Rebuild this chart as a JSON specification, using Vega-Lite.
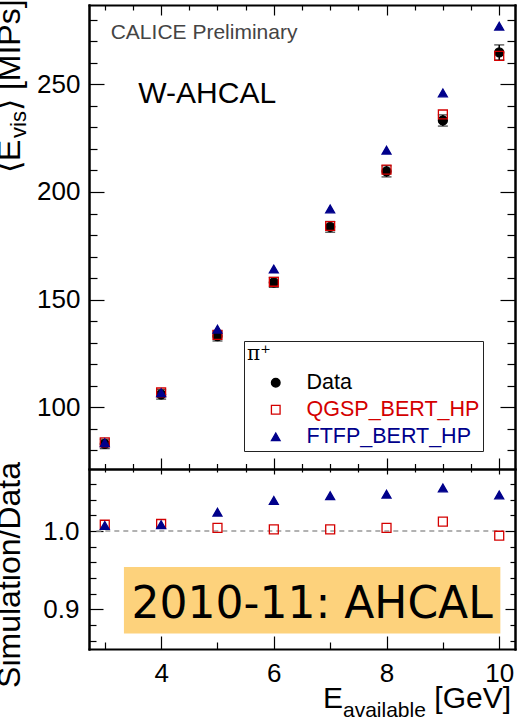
{
  "$schema": "https://vega.github.io/schema/vega-lite/v6.json",
  "width": 426,
  "height": 644,
  "autosize": {"type": "none"},
  "padding": {"left": 89, "top": 5, "right": 13, "bottom": 72},
  "background": "white",
  "config": {
    "font": "Liberation Sans",
    "view": {"stroke": null},
    "axis": {
      "grid": false,
      "domainColor": "black",
      "domainWidth": 2,
      "domainCap": "square",
      "tickColor": "black",
      "tickWidth": 1.2,
      "labelFont": "Liberation Sans",
      "labelFontSize": 26,
      "labelColor": "black",
      "labelFlush": false,
      "labelOverlap": false,
      "labelBound": false
    }
  },
  "datasets": {
    "main": [
      {"E": 3, "series": "Data", "v": 83.0, "err": 2.2},
      {"E": 4, "series": "Data", "v": 106.0, "err": 2.2},
      {"E": 5, "series": "Data", "v": 133.1, "err": 2.3},
      {"E": 6, "series": "Data", "v": 158.0, "err": 2.3},
      {"E": 7, "series": "Data", "v": 183.8, "err": 2.5},
      {"E": 8, "series": "Data", "v": 209.6, "err": 2.6},
      {"E": 9, "series": "Data", "v": 233.2, "err": 2.6},
      {"E": 10, "series": "Data", "v": 264.8, "err": 3.5},
      {"E": 3, "series": "QGSP_BERT_HP", "v": 83.7},
      {"E": 4, "series": "QGSP_BERT_HP", "v": 106.9},
      {"E": 5, "series": "QGSP_BERT_HP", "v": 133.6},
      {"E": 6, "series": "QGSP_BERT_HP", "v": 158.3},
      {"E": 7, "series": "QGSP_BERT_HP", "v": 184.2},
      {"E": 8, "series": "QGSP_BERT_HP", "v": 210.4},
      {"E": 9, "series": "QGSP_BERT_HP", "v": 236.0},
      {"E": 10, "series": "QGSP_BERT_HP", "v": 263.2},
      {"E": 3, "series": "FTFP_BERT_HP", "v": 83.6},
      {"E": 4, "series": "FTFP_BERT_HP", "v": 106.8},
      {"E": 5, "series": "FTFP_BERT_HP", "v": 136.3},
      {"E": 6, "series": "FTFP_BERT_HP", "v": 164.2},
      {"E": 7, "series": "FTFP_BERT_HP", "v": 192.1},
      {"E": 8, "series": "FTFP_BERT_HP", "v": 219.4},
      {"E": 9, "series": "FTFP_BERT_HP", "v": 246.0},
      {"E": 10, "series": "FTFP_BERT_HP", "v": 277.0}
    ],
    "ratio": [
      {"E": 3, "series": "QGSP_BERT_HP", "r": 1.008},
      {"E": 4, "series": "QGSP_BERT_HP", "r": 1.009},
      {"E": 5, "series": "QGSP_BERT_HP", "r": 1.004},
      {"E": 6, "series": "QGSP_BERT_HP", "r": 1.002},
      {"E": 7, "series": "QGSP_BERT_HP", "r": 1.002},
      {"E": 8, "series": "QGSP_BERT_HP", "r": 1.004},
      {"E": 9, "series": "QGSP_BERT_HP", "r": 1.012},
      {"E": 10, "series": "QGSP_BERT_HP", "r": 0.994},
      {"E": 3, "series": "FTFP_BERT_HP", "r": 1.007},
      {"E": 4, "series": "FTFP_BERT_HP", "r": 1.008},
      {"E": 5, "series": "FTFP_BERT_HP", "r": 1.024},
      {"E": 6, "series": "FTFP_BERT_HP", "r": 1.039},
      {"E": 7, "series": "FTFP_BERT_HP", "r": 1.045},
      {"E": 8, "series": "FTFP_BERT_HP", "r": 1.047},
      {"E": 9, "series": "FTFP_BERT_HP", "r": 1.055},
      {"E": 10, "series": "FTFP_BERT_HP", "r": 1.046}
    ]
  },
  "resolve": {"scale": {"y": "independent"}, "axis": {"x": "independent", "y": "independent"}},
  "layer": [
    {
      "resolve": {"axis": {"x": "independent", "y": "independent"}},
      "layer": [
        {
          "data": {"name": "main"},
          "mark": {"type": "point", "opacity": 0},
          "encoding": {
            "x": {"field": "E", "type": "quantitative", "scale": {"domain": [2.72, 10.28], "nice": false, "zero": false},
              "axis": {"orient": "top", "title": null, "labels": false, "values": [3,3.5,4,4.5,5,5.5,6,6.5,7,7.5,8,8.5,9,9.5,10],
                "tickSize": {"condition": {"test": "datum.value % 2 === 0", "value": -10}, "value": -5}}},
            "y": {"field": "v", "type": "quantitative", "scale": {"domain": [-12.24, 286.83], "nice": false, "zero": false},
              "axis": {"orient": "left", "title": null, "values": [80,90,100,110,120,130,140,150,160,170,180,190,200,210,220,230,240,250,260,270,280],
                "labelExpr": "datum.value % 50 === 0 ? datum.label : ''", "labelPadding": 24,
                "tickSize": {"condition": {"test": "datum.value % 50 === 0", "value": -15}, "value": -8}}}
          }
        },
        {
          "data": {"name": "main"},
          "mark": {"type": "point", "opacity": 0},
          "encoding": {
            "x": {"field": "E", "type": "quantitative", "scale": {"domain": [2.72, 10.28], "nice": false, "zero": false},
              "axis": {"orient": "top", "offset": -464, "title": null, "labels": false, "values": [3,3.5,4,4.5,5,5.5,6,6.5,7,7.5,8,8.5,9,9.5,10],
                "tickSize": {"condition": {"test": "datum.value % 2 === 0", "value": 11}, "value": 5.5}}},
            "y": {"field": "v", "type": "quantitative", "scale": {"domain": [-12.24, 286.83], "nice": false, "zero": false},
              "axis": {"orient": "right", "title": null, "labels": false, "values": [80,90,100,110,120,130,140,150,160,170,180,190,200,210,220,230,240,250,260,270,280],
                "tickSize": {"condition": {"test": "datum.value % 50 === 0", "value": -15}, "value": -8}}}
          }
        },
        {
          "data": {"name": "main"},
          "transform": [{"filter": "datum.series === 'Data'"}],
          "mark": {"type": "errorbar", "ticks": {"size": 10, "thickness": 1.3, "color": "black"}, "rule": {"strokeWidth": 1.5, "color": "black"}},
          "encoding": {
            "x": {"field": "E", "type": "quantitative", "scale": {"domain": [2.72, 10.28], "nice": false, "zero": false}, "axis": null},
            "y": {"field": "v", "type": "quantitative", "scale": {"domain": [-12.24, 286.83], "nice": false, "zero": false}, "axis": null},
            "yError": {"field": "err"}
          }
        },
        {
          "data": {"name": "main"},
          "mark": {"type": "point", "size": 80, "strokeWidth": 1.3, "opacity": 1, "fillOpacity": 1},
          "encoding": {
            "x": {"field": "E", "type": "quantitative", "scale": {"domain": [2.72, 10.28], "nice": false, "zero": false}, "axis": null},
            "y": {"field": "v", "type": "quantitative", "scale": {"domain": [-12.24, 286.83], "nice": false, "zero": false}, "axis": null},
            "shape": {"field": "series", "type": "nominal",
              "scale": {"domain": ["Data", "QGSP_BERT_HP", "FTFP_BERT_HP"], "range": ["circle", "square", "triangle-up"]},
              "legend": {"orient": "none", "legendX": 155, "legendY": 336, "title": "π⁺", "titleFont": "DejaVu Serif", "titleFontSize": 20,
                "titleFontWeight": "normal", "titleColor": "black", "titlePadding": 8,
                "labelFont": "Liberation Sans", "labelFontSize": 21.5, "labelLimit": 400,
                "labelColor": {"expr": "datum.label === 'Data' ? 'black' : datum.label === 'QGSP_BERT_HP' ? '#d40000' : '#00008b'"},
                "symbolSize": 75, "symbolStrokeWidth": 1.3, "symbolOffset": 18, "labelOffset": 20, "rowPadding": 4, "padding": 3,
                "fillColor": "white", "strokeColor": "#222"}},
            "fill": {"field": "series", "type": "nominal",
              "scale": {"domain": ["Data", "QGSP_BERT_HP", "FTFP_BERT_HP"], "range": ["black", "transparent", "#00008b"]}},
            "stroke": {"field": "series", "type": "nominal",
              "scale": {"domain": ["Data", "QGSP_BERT_HP", "FTFP_BERT_HP"], "range": ["black", "#d40000", "#00008b"]}}
          }
        },
        {
          "data": {"values": [{}]},
          "mark": {"type": "text", "text": "CALICE Preliminary", "align": "left", "baseline": "alphabetic", "fontSize": 21, "color": "#444"},
          "encoding": {
            "x": {"datum": 3.105, "type": "quantitative", "scale": {"domain": [2.72, 10.28], "nice": false, "zero": false}, "axis": null},
            "y": {"datum": 270.9, "type": "quantitative", "scale": {"domain": [-12.24, 286.83], "nice": false, "zero": false}, "axis": null}
          }
        },
        {
          "data": {"values": [{}]},
          "mark": {"type": "text", "text": "W-AHCAL", "align": "left", "baseline": "alphabetic", "fontSize": 30, "color": "black"},
          "encoding": {
            "x": {"datum": 3.595, "type": "quantitative", "scale": {"domain": [2.72, 10.28], "nice": false, "zero": false}, "axis": null},
            "y": {"datum": 241.45, "type": "quantitative", "scale": {"domain": [-12.24, 286.83], "nice": false, "zero": false}, "axis": null}
          }
        },
        {
          "data": {"values": [{}]},
          "mark": {"type": "text", "text": "⟨E", "align": "left", "baseline": "alphabetic", "angle": 270, "fontSize": 32, "color": "black"},
          "encoding": {
            "x": {"datum": 1.49, "type": "quantitative", "scale": {"domain": [2.72, 10.28], "nice": false, "zero": false}, "axis": null},
            "y": {"datum": 208.8, "type": "quantitative", "scale": {"domain": [-12.24, 286.83], "nice": false, "zero": false}, "axis": null}
          }
        },
        {
          "data": {"values": [{}]},
          "mark": {"type": "text", "text": "vis", "align": "left", "baseline": "alphabetic", "angle": 270, "fontSize": 22, "color": "black"},
          "encoding": {
            "x": {"datum": 1.605, "type": "quantitative", "scale": {"domain": [2.72, 10.28], "nice": false, "zero": false}, "axis": null},
            "y": {"datum": 225.1, "type": "quantitative", "scale": {"domain": [-12.24, 286.83], "nice": false, "zero": false}, "axis": null}
          }
        },
        {
          "data": {"values": [{}]},
          "mark": {"type": "text", "text": "⟩ [MIPs]", "align": "left", "baseline": "alphabetic", "angle": 270, "fontSize": 32, "color": "black"},
          "encoding": {
            "x": {"datum": 1.49, "type": "quantitative", "scale": {"domain": [2.72, 10.28], "nice": false, "zero": false}, "axis": null},
            "y": {"datum": 237.6, "type": "quantitative", "scale": {"domain": [-12.24, 286.83], "nice": false, "zero": false}, "axis": null}
          }
        }
      ]
    },
    {
      "resolve": {"axis": {"x": "independent", "y": "independent"}},
      "layer": [
        {
          "data": {"name": "ratio"},
          "mark": {"type": "point", "opacity": 0},
          "encoding": {
            "x": {"field": "E", "type": "quantitative", "scale": {"domain": [2.72, 10.28], "nice": false, "zero": false},
              "axis": {"orient": "bottom", "title": null, "values": [3,3.5,4,4.5,5,5.5,6,6.5,7,7.5,8,8.5,9,9.5,10], "format": "d",
                "labelExpr": "datum.value % 2 === 0 ? datum.label : ''", "labelPadding": 24,
                "tickSize": {"condition": {"test": "datum.value % 2 === 0", "value": -13}, "value": -7}}},
            "y": {"field": "r", "type": "quantitative", "scale": {"domain": [0.8493, 1.6718], "nice": false, "zero": false},
              "axis": {"orient": "left", "title": null, "values": [0.86,0.88,0.9,0.92,0.94,0.96,0.98,1.0,1.02,1.04,1.06], "format": ".1f",
                "labelExpr": "abs(datum.value*10 - round(datum.value*10)) < 0.001 ? datum.label : ''", "labelPadding": 24,
                "tickSize": {"condition": {"test": "abs(datum.value*10 - round(datum.value*10)) < 0.001", "value": -14}, "value": -7}}}
          }
        },
        {
          "data": {"name": "ratio"},
          "mark": {"type": "point", "opacity": 0},
          "encoding": {
            "x": {"field": "E", "type": "quantitative", "scale": {"domain": [2.72, 10.28], "nice": false, "zero": false},
              "axis": {"orient": "bottom", "offset": -180, "title": null, "labels": false, "values": [3,3.5,4,4.5,5,5.5,6,6.5,7,7.5,8,8.5,9,9.5,10],
                "tickSize": {"condition": {"test": "datum.value % 2 === 0", "value": 5}, "value": 3}}},
            "y": {"field": "r", "type": "quantitative", "scale": {"domain": [0.8493, 1.6718], "nice": false, "zero": false},
              "axis": {"orient": "right", "title": null, "labels": false, "values": [0.86,0.88,0.9,0.92,0.94,0.96,0.98,1.0,1.02,1.04,1.06],
                "tickSize": {"condition": {"test": "abs(datum.value*10 - round(datum.value*10)) < 0.001", "value": -10}, "value": -5}}}
          }
        },
        {
          "data": {"values": [{}]},
          "mark": {"type": "rule", "color": "#999", "strokeDash": [5, 4], "strokeWidth": 1.5},
          "encoding": {
            "x": {"datum": 2.85, "type": "quantitative", "scale": {"domain": [2.72, 10.28], "nice": false, "zero": false}, "axis": null},
            "x2": {"datum": 10.07},
            "y": {"datum": 1.0, "type": "quantitative", "scale": {"domain": [0.8493, 1.6718], "nice": false, "zero": false}, "axis": null}
          }
        },
        {
          "data": {"name": "ratio"},
          "mark": {"type": "point", "size": 80, "strokeWidth": 1.3, "opacity": 1, "fillOpacity": 1},
          "encoding": {
            "x": {"field": "E", "type": "quantitative", "scale": {"domain": [2.72, 10.28], "nice": false, "zero": false}, "axis": null},
            "y": {"field": "r", "type": "quantitative", "scale": {"domain": [0.8493, 1.6718], "nice": false, "zero": false}, "axis": null},
            "shape": {"field": "series", "type": "nominal",
              "scale": {"domain": ["Data", "QGSP_BERT_HP", "FTFP_BERT_HP"], "range": ["circle", "square", "triangle-up"]}},
            "fill": {"field": "series", "type": "nominal",
              "scale": {"domain": ["Data", "QGSP_BERT_HP", "FTFP_BERT_HP"], "range": ["black", "transparent", "#00008b"]}},
            "stroke": {"field": "series", "type": "nominal",
              "scale": {"domain": ["Data", "QGSP_BERT_HP", "FTFP_BERT_HP"], "range": ["black", "#d40000", "#00008b"]}}
          }
        },
        {
          "data": {"values": [{}]},
          "mark": {"type": "rect", "color": "#fdd27c"},
          "encoding": {
            "x": {"datum": 3.34, "type": "quantitative", "scale": {"domain": [2.72, 10.28], "nice": false, "zero": false}, "axis": null},
            "x2": {"datum": 10.02},
            "y": {"datum": 0.869, "type": "quantitative", "scale": {"domain": [0.8493, 1.6718], "nice": false, "zero": false}, "axis": null},
            "y2": {"datum": 0.954}
          }
        },
        {
          "data": {"values": [{}]},
          "mark": {"type": "text", "text": "2010-11: AHCAL", "align": "center", "baseline": "alphabetic", "font": "DejaVu Sans", "fontSize": 44, "color": "black"},
          "encoding": {
            "x": {"datum": 6.68, "type": "quantitative", "scale": {"domain": [2.72, 10.28], "nice": false, "zero": false}, "axis": null},
            "y": {"datum": 0.8885, "type": "quantitative", "scale": {"domain": [0.8493, 1.6718], "nice": false, "zero": false}, "axis": null}
          }
        },
        {
          "data": {"values": [{}]},
          "mark": {"type": "text", "text": "Simulation/Data", "align": "right", "baseline": "alphabetic", "angle": 270, "fontSize": 32, "color": "black"},
          "encoding": {
            "x": {"datum": 1.49, "type": "quantitative", "scale": {"domain": [2.72, 10.28], "nice": false, "zero": false}, "axis": null},
            "y": {"datum": 1.0881, "type": "quantitative", "scale": {"domain": [0.8493, 1.6718], "nice": false, "zero": false}, "axis": null}
          }
        },
        {
          "data": {"values": [{}]},
          "mark": {"type": "text", "text": "E", "align": "left", "baseline": "alphabetic", "fontSize": 30, "color": "black"},
          "encoding": {
            "x": {"datum": 6.872, "type": "quantitative", "scale": {"domain": [2.72, 10.28], "nice": false, "zero": false}, "axis": null},
            "y": {"datum": 0.7736, "type": "quantitative", "scale": {"domain": [0.8493, 1.6718], "nice": false, "zero": false}, "axis": null}
          }
        },
        {
          "data": {"values": [{}]},
          "mark": {"type": "text", "text": "available", "align": "left", "baseline": "alphabetic", "fontSize": 21, "color": "black"},
          "encoding": {
            "x": {"datum": 7.227, "type": "quantitative", "scale": {"domain": [2.72, 10.28], "nice": false, "zero": false}, "axis": null},
            "y": {"datum": 0.7628, "type": "quantitative", "scale": {"domain": [0.8493, 1.6718], "nice": false, "zero": false}, "axis": null}
          }
        },
        {
          "data": {"values": [{}]},
          "mark": {"type": "text", "text": "[GeV]", "align": "right", "baseline": "alphabetic", "fontSize": 30, "color": "black"},
          "encoding": {
            "x": {"datum": 10.209, "type": "quantitative", "scale": {"domain": [2.72, 10.28], "nice": false, "zero": false}, "axis": null},
            "y": {"datum": 0.7736, "type": "quantitative", "scale": {"domain": [0.8493, 1.6718], "nice": false, "zero": false}, "axis": null}
          }
        }
      ]
    }
  ]
}
